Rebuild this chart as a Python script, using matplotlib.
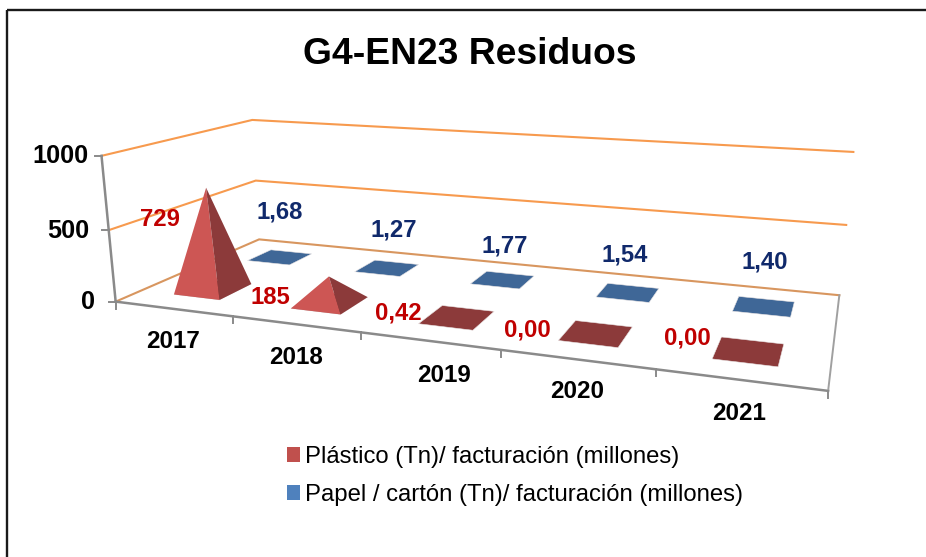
import numpy as np
import matplotlib
matplotlib.use("Agg")
import matplotlib.pyplot as plt
from matplotlib.patches import Patch, Polygon

plt.rcParams["font.family"] = ["Liberation Sans", "DejaVu Sans"]

years = ["2017", "2018", "2019", "2020", "2021"]
plastico = [729, 185, 0.42, 0.00, 0.00]
papel = [1.68, 1.27, 1.77, 1.54, 1.40]
y_ticks = [0, 500, 1000]
plastico_name = "Plástico (Tn)/ facturación (millones)"
papel_name = "Papel / cartón (Tn)/ facturación (millones)"

# where the labels sit on the page (pixels)
year_pos = [(173, 342), (296, 358), (444, 375), (577, 392), (739, 413)]
plastico_pos = [(160, 219), (270, 298), (398, 313), (527, 330), (687, 338)]
papel_pos = [(280, 212), (394, 230), (505, 246), (625, 255), (765, 262)]
y_label_right = [95, 89, 89]

# the 3d box as seen on the page: (category, depth, value) -> pixels
calib = [
    ((0, 0, 0), (116, 302)),
    ((0, 1, 0), (259, 239)),
    ((5, 1, 0), (839, 295)),
    ((5, 0, 0), (828, 391)),
    ((0, 0, 500), (108, 230)),
    ((0, 1, 500), (256, 181)),
    ((5, 1, 500), (847, 225)),
    ((0, 0, 1000), (102, 155.5)),
    ((0, 1, 1000), (252, 120)),
    ((5, 1, 1000), (853, 152)),
]


def fit_camera(calib):
    rows = []
    for (u, v, h), (x, y) in calib:
        p = [u, v, h / 1000, 1]
        rows.append(p + [0, 0, 0, 0] + [-x * c for c in p])
        rows.append([0, 0, 0, 0] + p + [-y * c for c in p])
    return np.linalg.svd(np.array(rows, dtype=float))[2][-1].reshape(3, 4)


cam = fit_camera(calib)


def project(u, v, h=0):
    q = cam @ np.array([u, v, h / 1000, 1])
    return q[0] / q[2], q[1] / q[2]


fig = plt.figure(figsize=(9.26, 5.57), dpi=100)
ax = fig.add_axes([0, 0, 1, 1])
ax.set_xlim(0, 926)
ax.set_ylim(557, 0)
ax.axis("off")

# page frame
ax.plot([7, 7], [557, 10], color="0.1", lw=1.7, solid_capstyle="butt")
ax.plot([7, 926], [10, 10], color="0.1", lw=1.7, solid_capstyle="butt")

# walls
orange = "#f79a4e"
for h in y_ticks:
    c = "#d8965f" if h == 0 else orange
    pts = [project(0, 0, h), project(0, 1, h), project(5, 1, h)]
    ax.plot(*zip(*pts), color=c, lw=1.5, zorder=1, solid_joinstyle="miter")

# axes
grey = "#8a8a8a"
ax.plot(*zip(project(0, 0, 0), project(0, 0, 1000)), color=grey, lw=1.8, zorder=2)
ax.plot(*zip(project(0, 0, 0), project(5, 0, 0)), color=grey, lw=1.8, zorder=2)
ax.plot(*zip(project(5, 0, 0), project(5, 1, 0)), color="#a0a0a0", lw=1.4, zorder=2)
for k, h in enumerate(y_ticks):
    x, y = project(0, 0, h)
    ax.plot([x - 7, x], [y, y], color=grey, lw=1.4, zorder=2)
    ax.text(y_label_right[k], y + 0.5, str(h), ha="right", va="center",
            fontsize=18.2, fontweight="bold", color="black")
for i in range(6):
    x, y = project(i, 0, 0)
    ax.plot([x, x], [y, y + 7], color=grey, lw=1.4, zorder=2)


def draw_pyramid(i, d0, d1, value, light, dark):
    half = 0.2
    mid = i + 0.495
    u0, u1 = mid - half, mid + half
    fl, fr = project(u0, d0), project(u1, d0)
    br, bl = project(u1, d1), project(u0, d1)
    ax.add_patch(Polygon([fl, fr, br, bl], fc=dark, ec="#e9e4e4", lw=0.4, zorder=3))
    if value > 10:
        top = project(mid, (d0 + d1) / 2, value)
        ax.add_patch(Polygon([fl, fr, top], fc=light, ec="none", zorder=4))
        ax.add_patch(Polygon([fr, br, top], fc=dark, ec="none", zorder=4))


for i in range(len(years)):
    draw_pyramid(i, 0.665, 0.855, papel[i], "#4f81bd", "#3f6797")
    draw_pyramid(i, 0.15, 0.37, plastico[i], "#cd5654", "#8c3a3a")


def fmt(v):
    return f"{v:.2f}".replace(".", ",") if v < 10 else str(v)


for i, year in enumerate(years):
    ax.text(*year_pos[i], year, ha="center", va="center", fontsize=17.4,
            fontweight="bold", color="black")
    ax.text(*plastico_pos[i], fmt(plastico[i]), ha="center", va="center",
            fontsize=17.2, fontweight="bold", color="#c00000", zorder=6)
    ax.text(*papel_pos[i], fmt(papel[i]), ha="center", va="center",
            fontsize=17.2, fontweight="bold", color="#10296b", zorder=6)

ax.text(470, 55, "G4-EN23 Residuos", ha="center", va="center", fontsize=26.8,
        fontweight="bold", color="black")

handles = [Patch(fc="#c0504d", label=plastico_name), Patch(fc="#4f81bd", label=papel_name)]
ax.legend(handles=handles, loc="upper left", bbox_to_anchor=(287, 446),
          bbox_transform=ax.transData, frameon=False, fontsize=17.2, borderpad=0,
          borderaxespad=0, handlelength=0.55, handleheight=0.55, handletextpad=0.22,
          labelspacing=0.66)

fig.savefig("out.png", dpi=100)
